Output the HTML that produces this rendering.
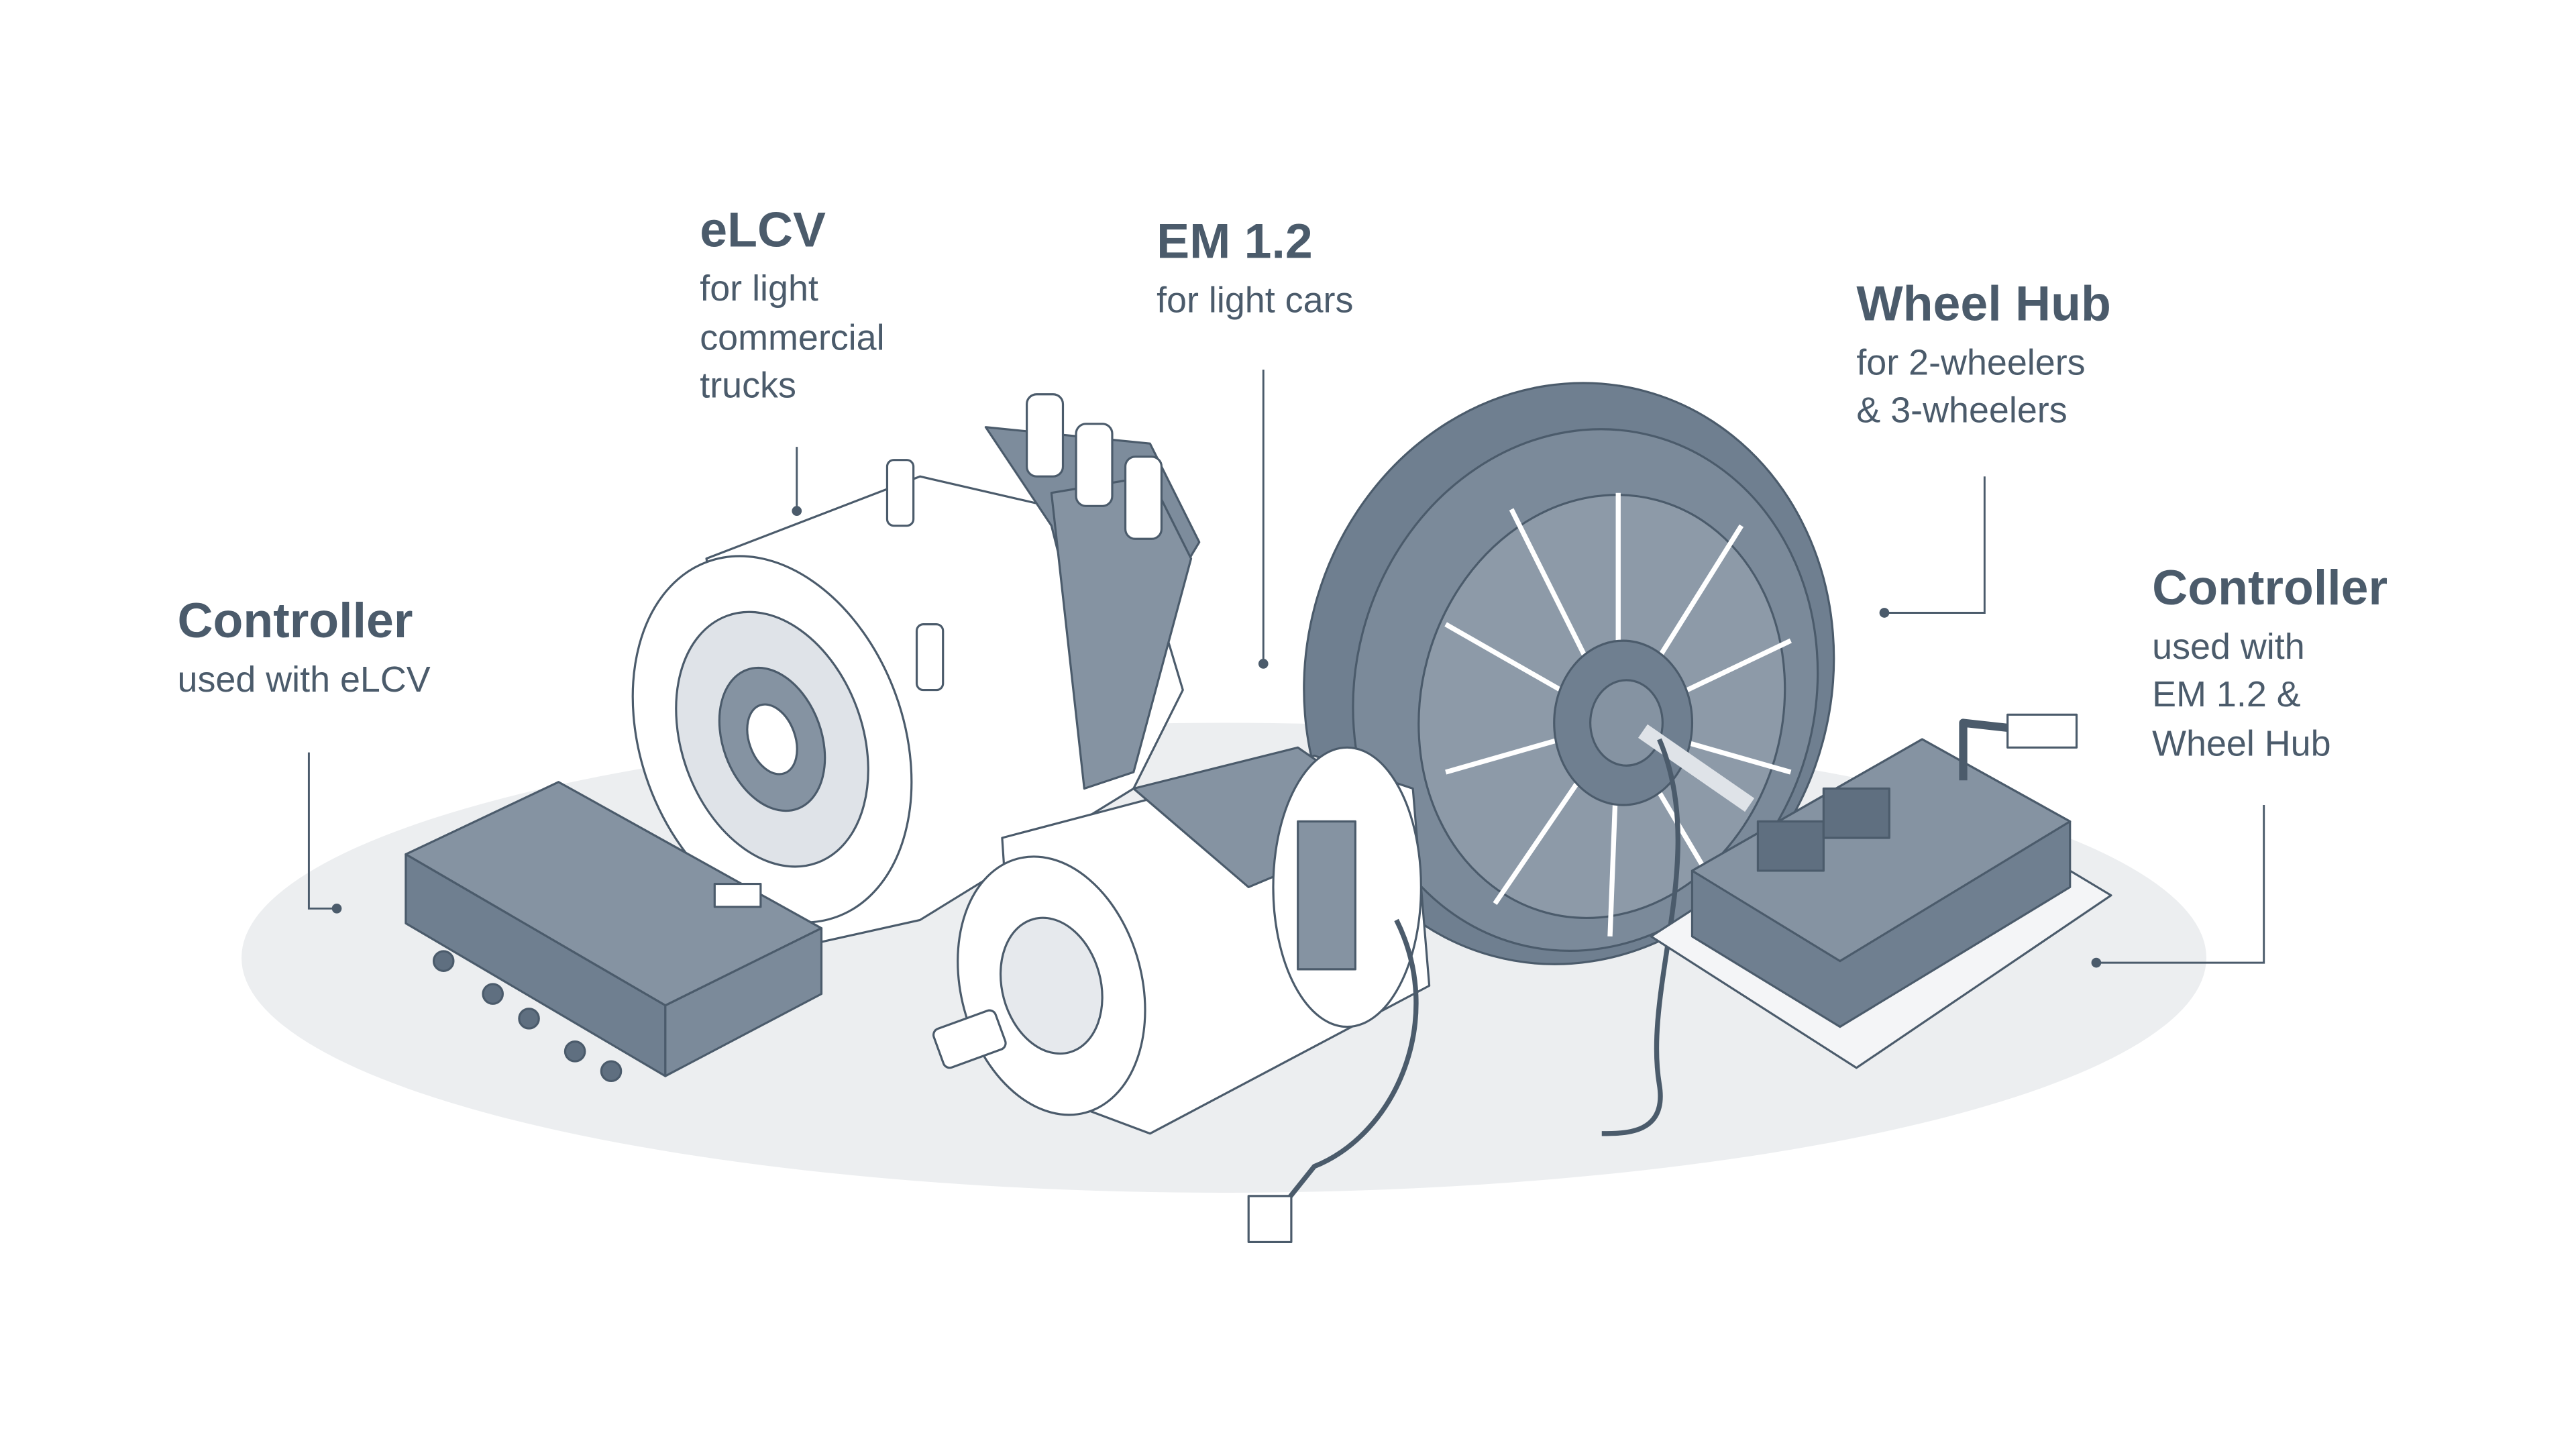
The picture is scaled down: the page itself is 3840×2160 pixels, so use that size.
<!DOCTYPE html>
<html><head><meta charset="utf-8"><style>
html,body{margin:0;padding:0;background:#fff;width:3840px;height:2160px;overflow:hidden}
svg{display:block}
text{font-family:"Liberation Sans",sans-serif;fill:#4b5b6b}
.h{font-weight:bold;font-size:30px}
.s{font-size:22px}
.ln{stroke:#4b5b6b;stroke-width:1.2;fill:none}
.o{stroke:#4b5b6b;stroke-width:1.3;stroke-linejoin:round}
</style></head><body>
<svg width="3840" height="2160" viewBox="0 0 1568 882" xmlns="http://www.w3.org/2000/svg">
<rect width="1568" height="882" fill="#fff"/>
<ellipse cx="745" cy="583" rx="598" ry="143" fill="#eceef0"/>

<!-- eLCV motor -->
<g class="o">
<path d="M430 340 L560 290 L690 320 L720 420 L690 480 L560 560 L470 580 Z" fill="#fff"/>
<path d="M600 260 L700 270 L730 330 L700 380 L660 400 L640 320 Z" fill="#7d8c9c"/>
<path d="M640 300 L700 290 L725 340 L690 470 L660 480 Z" fill="#8593a2"/>
<ellipse cx="470" cy="450" rx="80" ry="115" transform="rotate(-20 470 450)" fill="#fff"/>
<ellipse cx="470" cy="450" rx="55" ry="80" transform="rotate(-20 470 450)" fill="#dfe3e8"/>
<ellipse cx="470" cy="450" rx="30" ry="45" transform="rotate(-20 470 450)" fill="#8593a2"/>
<ellipse cx="470" cy="450" rx="14" ry="22" transform="rotate(-20 470 450)" fill="#fff"/>
<rect x="625" y="240" width="22" height="50" rx="6" fill="#fff"/>
<rect x="655" y="258" width="22" height="50" rx="6" fill="#fff"/>
<rect x="685" y="278" width="22" height="50" rx="6" fill="#fff"/>
<rect x="540" y="280" width="16" height="40" rx="4" fill="#fff"/>
<rect x="558" y="380" width="16" height="40" rx="4" fill="#fff"/>
</g>

<!-- Wheel hub -->
<g class="o">
<ellipse cx="955" cy="410" rx="160" ry="178" transform="rotate(15 955 410)" fill="#6f7f90"/>
<ellipse cx="965" cy="420" rx="140" ry="160" transform="rotate(15 965 420)" fill="#7b8a9a"/>
<ellipse cx="975" cy="430" rx="110" ry="130" transform="rotate(15 975 430)" fill="#8d9aa8"/>
<g stroke="#fff" stroke-width="3">
<line x1="985" y1="440" x2="985" y2="300"/><line x1="985" y1="440" x2="1060" y2="320"/>
<line x1="985" y1="440" x2="1090" y2="390"/><line x1="985" y1="440" x2="1090" y2="470"/>
<line x1="985" y1="440" x2="1050" y2="550"/><line x1="985" y1="440" x2="980" y2="570"/>
<line x1="985" y1="440" x2="910" y2="550"/><line x1="985" y1="440" x2="880" y2="470"/>
<line x1="985" y1="440" x2="880" y2="380"/><line x1="985" y1="440" x2="920" y2="310"/>
</g>
<ellipse cx="988" cy="440" rx="42" ry="50" fill="#6f7f90"/>
<ellipse cx="990" cy="440" rx="22" ry="26" fill="#8593a2"/>
<path d="M1000 445 L1065 490" stroke-width="10" stroke="#dfe3e8"/>
<path d="M1010 450 C1040 520 1000 600 1010 660 C1015 690 990 690 975 690" fill="none" stroke-width="3"/>
</g>

<!-- EM 1.2 motor -->
<g class="o">
<path d="M610 510 L800 460 L860 480 L870 600 L700 690 L620 660 Z" fill="#fff"/>
<path d="M690 480 L790 455 L855 500 L760 540 Z" fill="#8593a2"/>
<ellipse cx="820" cy="540" rx="45" ry="85" fill="#fff"/>
<rect x="790" y="500" width="35" height="90" fill="#8593a2"/>
<ellipse cx="640" cy="600" rx="55" ry="80" transform="rotate(-15 640 600)" fill="#fff"/>
<ellipse cx="640" cy="600" rx="30" ry="42" transform="rotate(-15 640 600)" fill="#e6e9ed"/>
<rect x="570" y="620" width="40" height="25" rx="4" fill="#fff" transform="rotate(-20 590 632)"/>
<path d="M850 560 C880 620 850 690 800 710 L780 735" fill="none" stroke-width="3"/>
<rect x="760" y="728" width="26" height="28" fill="#fff"/>
</g>

<!-- Left controller -->
<g class="o">
<path d="M247 520 L340 476 L500 565 L405 612 Z" fill="#8593a2"/>
<path d="M247 520 L405 612 L405 655 L247 562 Z" fill="#6f7f90"/>
<path d="M405 612 L500 565 L500 605 L405 655 Z" fill="#7b8a9a"/>
<rect x="435" y="538" width="28" height="14" fill="#fff"/>
<g fill="#5f6f80"><circle cx="270" cy="585" r="6"/><circle cx="300" cy="605" r="6"/><circle cx="322" cy="620" r="6"/><circle cx="350" cy="640" r="6"/><circle cx="372" cy="652" r="6"/></g>
</g>

<!-- Right controller -->
<g class="o">
<path d="M1005 570 L1160 470 L1285 545 L1130 650 Z" fill="#f4f5f7"/>
<path d="M1030 530 L1170 450 L1260 500 L1260 540 L1120 625 L1030 570 Z" fill="#6f7f90"/>
<path d="M1030 530 L1170 450 L1260 500 L1120 585 Z" fill="#8593a2"/>
<rect x="1070" y="500" width="40" height="30" fill="#5f6f80"/>
<rect x="1110" y="480" width="40" height="30" fill="#5f6f80"/>
<path d="M1195 475 L1195 440 L1240 445" fill="none" stroke-width="5"/>
<rect x="1222" y="435" width="42" height="20" fill="#fff"/>
</g>

<!-- Labels -->
<text class="h" x="426" y="150">eLCV</text>
<text class="s" x="426" y="183">for light</text>
<text class="s" x="426" y="213">commercial</text>
<text class="s" x="426" y="242">trucks</text>
<text class="h" x="704" y="157">EM 1.2</text>
<text class="s" x="704" y="190">for light cars</text>
<text class="h" x="1130" y="195">Wheel Hub</text>
<text class="s" x="1130" y="228">for 2-wheelers</text>
<text class="s" x="1130" y="257">&amp; 3-wheelers</text>
<text class="h" x="108" y="388">Controller</text>
<text class="s" x="108" y="421">used with eLCV</text>
<text class="h" x="1310" y="368">Controller</text>
<text class="s" x="1310" y="401">used with</text>
<text class="s" x="1310" y="430">EM 1.2 &amp;</text>
<text class="s" x="1310" y="460">Wheel Hub</text>

<!-- Leaders -->
<g class="ln">
<path d="M485 272 V311"/>
<path d="M769 225 V404"/>
<path d="M1208 290 V373 H1147"/>
<path d="M1378 490 V586 H1276"/>
<path d="M188 458 V553 H205"/>
</g>
<g fill="#4b5b6b">
<circle cx="485" cy="311" r="3"/><circle cx="769" cy="404" r="3"/>
<circle cx="1147" cy="373" r="3"/><circle cx="1276" cy="586" r="3"/><circle cx="205" cy="553" r="3"/>
</g>
</svg>
</body></html>
